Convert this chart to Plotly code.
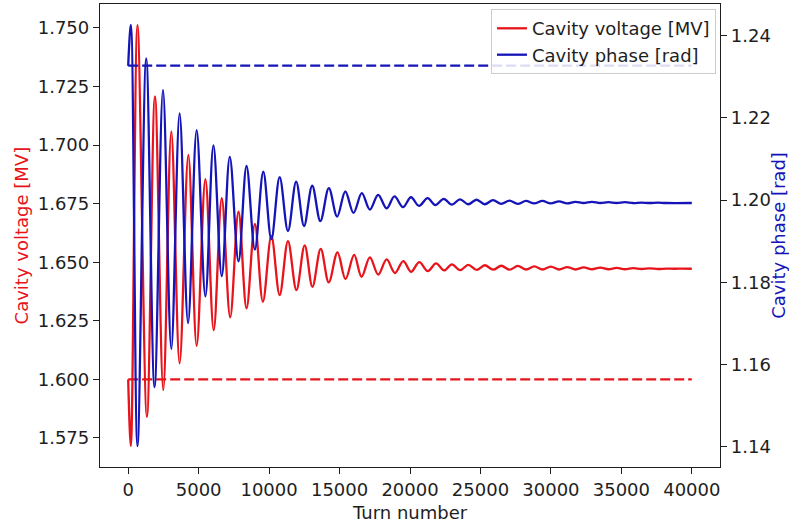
import plotly.graph_objects as go

# ---- data (extrema of the damped oscillations) ----
red_turns = [0, 190, 660, 1330, 1900, 2490, 3060, 3650, 4270, 4860, 5480, 6070, 6640,
             7240, 7830, 8400, 8990, 9560, 10160, 10750, 11340, 11940, 12527, 13075,
             13665, 14235, 14854, 15423, 16036, 16562, 17153, 17744, 18342, 18932,
             19523, 20071, 20662, 21260, 21851, 22420, 22968, 23560, 24140, 24730,
             25310, 25900, 26480, 27070, 27650, 28240, 28820, 29410, 29990, 30580,
             31160, 31750, 32330, 32920, 33500, 34090, 34670, 35260, 35840, 36430,
             37010, 37600, 38180, 38770, 39350, 39999]
red_voltage = [1.6000, 1.5716, 1.7512, 1.5840, 1.7208, 1.5954, 1.7058, 1.6068, 1.6958,
               1.6143, 1.6854, 1.6210, 1.6773, 1.6265, 1.6716, 1.6303, 1.6663, 1.6331,
               1.6612, 1.6360, 1.6590, 1.6381, 1.6572, 1.6395, 1.6557, 1.6414, 1.6542,
               1.6428, 1.6531, 1.6438, 1.6521, 1.6447, 1.6512, 1.6454, 1.6505, 1.6459,
               1.6500, 1.6462, 1.6495, 1.6465, 1.6491, 1.6466, 1.6489, 1.6467, 1.6487,
               1.6468, 1.6485, 1.6468, 1.6484, 1.6469, 1.6482, 1.6469, 1.6481, 1.6469,
               1.6479, 1.6469, 1.6478, 1.6470, 1.6477, 1.6470, 1.6476, 1.6470, 1.6475,
               1.6471, 1.6474, 1.6471, 1.6473, 1.6472, 1.6473, 1.6472]

blue_turns = [0, 190, 660, 1280, 1870, 2470, 3060, 3650, 4250, 4860, 5480, 6050, 6640,
              7210, 7830, 8400, 8990, 9590, 10160, 10750, 11340, 11920, 12480, 13060,
              13640, 14240, 14830, 15410, 15990, 16580, 17150, 17740, 18340, 18900,
              19500, 20070, 20640, 21250, 21800, 22390, 22970, 23550, 24130, 24720,
              25300, 25890, 26470, 27060, 27640, 28230, 28810, 29400, 29980, 30570,
              31150, 31740, 32320, 32910, 33490, 34080, 34660, 35250, 35830, 36420,
              37000, 37590, 38170, 39999]
blue_phase = [1.2327, 1.2426, 1.1402, 1.2345, 1.1545, 1.2268, 1.1638, 1.2211, 1.1701,
              1.2170, 1.1766, 1.2133, 1.1815, 1.2105, 1.1851, 1.2083, 1.1880, 1.2069,
              1.1905, 1.2056, 1.1925, 1.2045, 1.1937, 1.2035, 1.1949, 1.2029, 1.1960,
              1.2021, 1.1969, 1.2017, 1.1977, 1.2013, 1.1980, 1.2009, 1.1983, 1.2007,
              1.1986, 1.2005, 1.1988, 1.2003, 1.1989, 1.2002, 1.1990, 1.2001, 1.1990,
              1.2000, 1.1991, 1.1999, 1.1991, 1.1998, 1.1992, 1.1998, 1.1992, 1.1997,
              1.1992, 1.1996, 1.1993, 1.1996, 1.1993, 1.1995, 1.1993, 1.1995, 1.1993,
              1.1994, 1.1993, 1.1994, 1.1993, 1.1993]

ref_turns = [0, 39999]
ref_voltage = [1.600, 1.600]
ref_phase = [1.2327, 1.2327]

x_ticks = [0, 5000, 10000, 15000, 20000, 25000, 30000, 35000, 40000]
y_ticks = [1.575, 1.600, 1.625, 1.650, 1.675, 1.700, 1.725, 1.750]
y2_ticks = [1.14, 1.16, 1.18, 1.20, 1.22, 1.24]

RED = "#e8141c"
BLUE = "#1414b8"
FONT = "DejaVu Sans"
AX = "#1e1e1e"
FS = 18

fig = go.Figure()
fig.add_trace(go.Scatter(x=red_turns, y=red_voltage, mode="lines",
                         line=dict(color=RED, width=2.3, shape="spline", smoothing=1),
                         name="Cavity voltage [MV]", yaxis="y"))
fig.add_trace(go.Scatter(x=ref_turns, y=ref_voltage, mode="lines",
                         line=dict(color=RED, width=2.3, dash="10px,4px"),
                         showlegend=False, yaxis="y"))
fig.add_trace(go.Scatter(x=blue_turns, y=blue_phase, mode="lines",
                         line=dict(color=BLUE, width=2.3, shape="spline", smoothing=1),
                         name="Cavity phase [rad]", yaxis="y2"))
fig.add_trace(go.Scatter(x=ref_turns, y=ref_phase, mode="lines",
                         line=dict(color=BLUE, width=2.3, dash="10px,4px"),
                         showlegend=False, yaxis="y2"))

axis_common = dict(showgrid=False, zeroline=False, showline=True, linecolor=AX,
                   linewidth=1.3, ticks="outside", ticklen=6, tickwidth=1.2, tickcolor=AX,
                   tickfont=dict(family=FONT, size=FS, color=AX))

fig.update_layout(
    width=789, height=522, autosize=False,
    margin=dict(l=100, r=69, t=4, b=55, pad=0),
    paper_bgcolor="white", plot_bgcolor="white",
    font=dict(family=FONT, size=FS, color=AX),
    xaxis=dict(range=[-2000, 42000], tickvals=x_ticks, tickformat="d",
               mirror=True, **axis_common),
    yaxis=dict(range=[1.5626, 1.7602], tickvals=y_ticks, tickformat=".3f",
               mirror=True, **axis_common),
    yaxis2=dict(range=[1.1351, 1.2477], tickvals=y2_ticks, tickformat=".2f",
                overlaying="y", side="right", **axis_common),
    legend=dict(x=0.9935, y=0.989, xanchor="right", yanchor="top",
                bgcolor="rgba(255,255,255,0.85)", bordercolor="#cccccc", borderwidth=1,
                font=dict(family=FONT, size=FS, color=AX), itemwidth=30),
    showlegend=True,
    annotations=[
        dict(text="Turn number", xref="paper", yref="paper", x=0.5, y=-0.099,
             xanchor="center", yanchor="middle", showarrow=False,
             font=dict(family=FONT, size=FS, color=AX)),
        dict(text="Cavity voltage [MV]", xref="paper", yref="paper", x=-0.126, y=0.5,
             xanchor="center", yanchor="middle", showarrow=False, textangle=-90,
             font=dict(family=FONT, size=FS, color=RED)),
        dict(text="Cavity phase [rad]", xref="paper", yref="paper", x=1.094, y=0.5,
             xanchor="center", yanchor="middle", showarrow=False, textangle=-90,
             font=dict(family=FONT, size=FS, color=BLUE)),
    ],
)

fig.write_html("out.html")
